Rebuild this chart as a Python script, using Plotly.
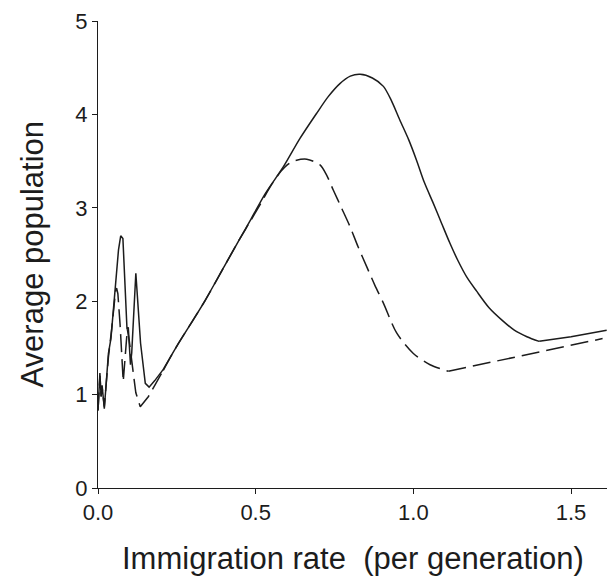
import plotly.graph_objects as go

# Solid curve
solid_x = [0.000, 0.006, 0.010, 0.013, 0.020, 0.033, 0.041, 0.055, 0.065, 0.072, 0.079,
           0.092, 0.096, 0.103, 0.107, 0.120, 0.135, 0.150, 0.162, 0.180, 0.207, 0.25,
           0.30, 0.34, 0.40, 0.45, 0.482, 0.53, 0.588, 0.64, 0.693, 0.73, 0.767, 0.80,
           0.831, 0.87, 0.905, 0.93, 0.957, 0.985, 1.010, 1.035, 1.063, 1.09, 1.116,
           1.142, 1.169, 1.20, 1.24, 1.28, 1.32, 1.36, 1.399, 1.50, 1.613]
solid_y = [0.83, 1.23, 0.98, 1.10, 0.85, 1.44, 1.60, 2.20, 2.55, 2.70, 2.67,
           1.70, 1.72, 1.32, 1.45, 2.30, 1.55, 1.12, 1.08, 1.15, 1.27, 1.52,
           1.79, 2.01, 2.37, 2.67, 2.86, 3.15, 3.44, 3.74, 4.01, 4.19, 4.33, 4.41,
           4.43, 4.39, 4.30, 4.15, 3.94, 3.73, 3.51, 3.27, 3.05, 2.83, 2.62,
           2.43, 2.26, 2.11, 1.93, 1.80, 1.69, 1.62, 1.57, 1.62, 1.69]

# Dashed curve
dash_x = [0.000, 0.006, 0.010, 0.013, 0.020, 0.033, 0.043, 0.052, 0.056, 0.059, 0.063,
          0.070, 0.080, 0.093, 0.099, 0.113, 0.120, 0.134, 0.160, 0.180, 0.207, 0.25,
          0.30, 0.34, 0.40, 0.45, 0.482, 0.515, 0.545, 0.58, 0.60, 0.619, 0.662, 0.704,
          0.725, 0.746, 0.772, 0.799, 0.825, 0.852, 0.878, 0.905, 0.947, 1.0, 1.053,
          1.111, 1.35, 1.6]
dash_y = [0.83, 1.20, 0.98, 1.08, 0.87, 1.40, 1.69, 2.00, 2.12, 2.14, 2.08,
          1.75, 1.14, 1.70, 1.58, 1.20, 1.02, 0.87, 0.98, 1.10, 1.26, 1.52,
          1.79, 2.01, 2.37, 2.67, 2.85, 3.04, 3.22, 3.39, 3.46, 3.50, 3.52, 3.46,
          3.35, 3.19, 3.00, 2.80, 2.58, 2.37, 2.17, 1.98, 1.66, 1.44, 1.32,
          1.25, 1.42, 1.60]

x_ticks = [0.0, 0.5, 1.0, 1.5]
x_tick_labels = ["0.0", "0.5", "1.0", "1.5"]
y_ticks = [0, 1, 2, 3, 4, 5]
y_tick_labels = ["0", "1", "2", "3", "4", "5"]

x_title = "Immigration rate\u00a0\u00a0(per generation)"
y_title = "Average population"

ink = "#1c1c1c"
fig = go.Figure()


def add_piecewise(xs, ys, smooth_from, smooth_to, dash):
    """Draw spiky / kinked parts as straight segments and the smooth hump as a spline."""
    i0 = xs.index(smooth_from)
    i1 = xs.index(smooth_to)
    pieces = [(0, i0, "linear"), (i0, i1, "spline"), (i1, len(xs) - 1, "linear")]
    for a, b, shape in pieces:
        fig.add_trace(go.Scatter(
            x=xs[a:b + 1], y=ys[a:b + 1], mode="lines",
            line=dict(color=ink, width=1.5, dash=dash, shape=shape,
                      smoothing=0.8 if shape == "spline" else None),
            showlegend=False, hoverinfo="skip"))


add_piecewise(dash_x, dash_y, 0.207, 1.111, "18px,7px")
add_piecewise(solid_x, solid_y, 0.207, 1.399, "solid")

W, H = 607, 576
ml, mr, mt, mb = 98, 0, 21, 88
fig.update_layout(
    width=W, height=H,
    margin=dict(l=ml, r=mr, t=mt, b=mb, pad=0),
    plot_bgcolor="white", paper_bgcolor="white",
    font=dict(family="Liberation Sans, Arial, sans-serif", color=ink),
    xaxis=dict(range=[0, 1.614], tickvals=x_ticks, ticktext=x_tick_labels,
               showgrid=False, zeroline=False, showline=True, linecolor=ink,
               linewidth=1, ticks="outside", ticklen=5, tickcolor=ink,
               tickfont=dict(size=22, color=ink)),
    yaxis=dict(range=[0, 5], tickvals=y_ticks, ticktext=y_tick_labels,
               showgrid=False, zeroline=False, showline=True, linecolor=ink,
               linewidth=1, ticks="outside", ticklen=5, tickcolor=ink,
               tickfont=dict(size=22, color=ink)),
    annotations=[
        dict(text=x_title, xref="paper", yref="paper", x=0.5, y=-(558 - 488) / 467,
             xanchor="center", yanchor="middle", showarrow=False,
             font=dict(size=31, color=ink)),
        dict(text=y_title, xref="paper", yref="paper", x=(32 - 98) / 509, y=0.5,
             xanchor="center", yanchor="middle", showarrow=False, textangle=-90,
             font=dict(size=31, color=ink)),
    ],
)
fig.write_html("out.html")
